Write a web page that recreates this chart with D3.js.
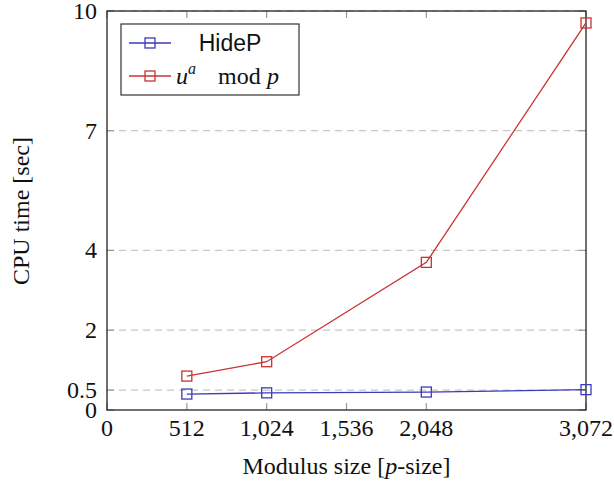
<!doctype html>
<html>
<head>
<meta charset="utf-8">
<script src="https://d3js.org/d3.v7.min.js"></script>
<style>
  body { margin: 0; background: #fff; }
  svg text { font-family: "Liberation Serif", "Times New Roman", serif; fill: #111; }
</style>
</head>
<body>
<svg id="chart" width="614" height="485"></svg>
<script>
// data
var sizes = [512, 1024, 2048, 3072];
var hideP = [0.40, 0.43, 0.45, 0.51];
var powMod = [0.85, 1.21, 3.70, 9.70];
var xTicks = [0, 512, 1024, 1536, 2048, 3072];
var yTicks = [0, 0.5, 2, 4, 7, 10];
var seriesNames = ["HideP", "u^a mod p"];
var seriesColors = ["#3b3bbd", "#cc3030"];

var svg = d3.select("#chart");
// plot box (note: "top" is a reserved window prop, so use pLeft/pTop...)
var pLeft = 107, pRight = 586, pTop = 11, pBottom = 410;

var x = d3.scaleLinear().domain([0, 3072]).range([pLeft, pRight]);
var y = d3.scaleLinear().domain([0, 10]).range([pBottom, pTop]);

// dashed grid on y
svg.append("g").selectAll("line")
  .data(yTicks.filter(function(d){ return d > 0; }))
  .join("line")
  .attr("x1", pLeft).attr("x2", pRight)
  .attr("y1", function(d){ return y(d); }).attr("y2", function(d){ return y(d); })
  .attr("stroke", "#c8c8c8").attr("stroke-width", 1.2)
  .attr("stroke-dasharray", "7,5");

// inward ticks, mirrored on the opposite side
var tickLen = 7;
var tg = svg.append("g").attr("stroke", "#999").attr("stroke-width", 1.2);
xTicks.forEach(function(d){
  tg.append("line").attr("x1", x(d)).attr("x2", x(d)).attr("y1", pBottom).attr("y2", pBottom - tickLen);
  tg.append("line").attr("x1", x(d)).attr("x2", x(d)).attr("y1", pTop).attr("y2", pTop + tickLen);
});
yTicks.forEach(function(d){
  tg.append("line").attr("x1", pLeft).attr("x2", pLeft + tickLen).attr("y1", y(d)).attr("y2", y(d));
  tg.append("line").attr("x1", pRight).attr("x2", pRight - tickLen).attr("y1", y(d)).attr("y2", y(d));
});

// frame
svg.append("rect")
  .attr("x", pLeft).attr("y", pTop)
  .attr("width", pRight - pLeft).attr("height", pBottom - pTop)
  .attr("fill", "none").attr("stroke", "#222").attr("stroke-width", 1.3);

// tick labels
var fmt = d3.format(",");
svg.append("g").selectAll("text")
  .data(xTicks).join("text")
  .attr("x", function(d){ return x(d); })
  .attr("y", 436)
  .attr("text-anchor", "middle")
  .attr("font-size", 24)
  .text(function(d){ return fmt(d); });

svg.append("g").selectAll("text")
  .data(yTicks).join("text")
  .attr("x", 97)
  .attr("y", function(d){ return y(d) + 8; })
  .attr("text-anchor", "end")
  .attr("font-size", 24)
  .text(function(d){ return d; });

// axis titles
svg.append("text")
  .attr("x", (pLeft + pRight) / 2).attr("y", 474)
  .attr("text-anchor", "middle").attr("font-size", 24)
  .html('Modulus size [<tspan font-style="italic">p</tspan>-size]');

svg.append("text")
  .attr("transform", "translate(29,211) rotate(-90)")
  .attr("text-anchor", "middle").attr("font-size", 24)
  .text("CPU time [sec]");

// series
var allSeries = [hideP, powMod];
var line = d3.line()
  .x(function(d, i){ return x(sizes[i]); })
  .y(function(d){ return y(d); });

allSeries.forEach(function(vals, k){
  var g = svg.append("g");
  g.append("path")
    .attr("d", line(vals))
    .attr("fill", "none")
    .attr("stroke", seriesColors[k])
    .attr("stroke-width", 1.3);
  g.selectAll("rect")
    .data(vals).join("rect")
    .attr("x", function(d, i){ return x(sizes[i]) - 5; })
    .attr("y", function(d){ return y(d) - 5; })
    .attr("width", 10).attr("height", 10)
    .attr("fill", "none")
    .attr("stroke", seriesColors[k])
    .attr("stroke-width", 1.3);
});

// legend
var lg = svg.append("g");
lg.append("rect")
  .attr("x", 121).attr("y", 24).attr("width", 178).attr("height", 71)
  .attr("fill", "#fff").attr("stroke", "#333").attr("stroke-width", 1.2);
var rows = [43, 76];
rows.forEach(function(ry, k){
  lg.append("line").attr("x1", 129).attr("x2", 171).attr("y1", ry).attr("y2", ry)
    .attr("stroke", seriesColors[k]).attr("stroke-width", 1.3);
  lg.append("rect").attr("x", 145).attr("y", ry - 5).attr("width", 10).attr("height", 10)
    .attr("fill", "none").attr("stroke", seriesColors[k]).attr("stroke-width", 1.3);
});
lg.append("text")
  .attr("x", 230).attr("y", 51).attr("text-anchor", "middle")
  .attr("font-size", 23)
  .style("font-family", "'Liberation Sans', Arial, sans-serif")
  .text(seriesNames[0]);
var t2 = lg.append("text").attr("y", 84).attr("font-size", 24);
t2.append("tspan").attr("x", 176).attr("font-style", "italic").text("u");
t2.append("tspan").attr("font-style", "italic").attr("font-size", 16).attr("dy", -10).text("a");
t2.append("tspan").attr("dy", 10).attr("x", 218).text("mod");
t2.append("tspan").attr("font-style", "italic").attr("x", 267).text("p");
</script>
</body>
</html>
